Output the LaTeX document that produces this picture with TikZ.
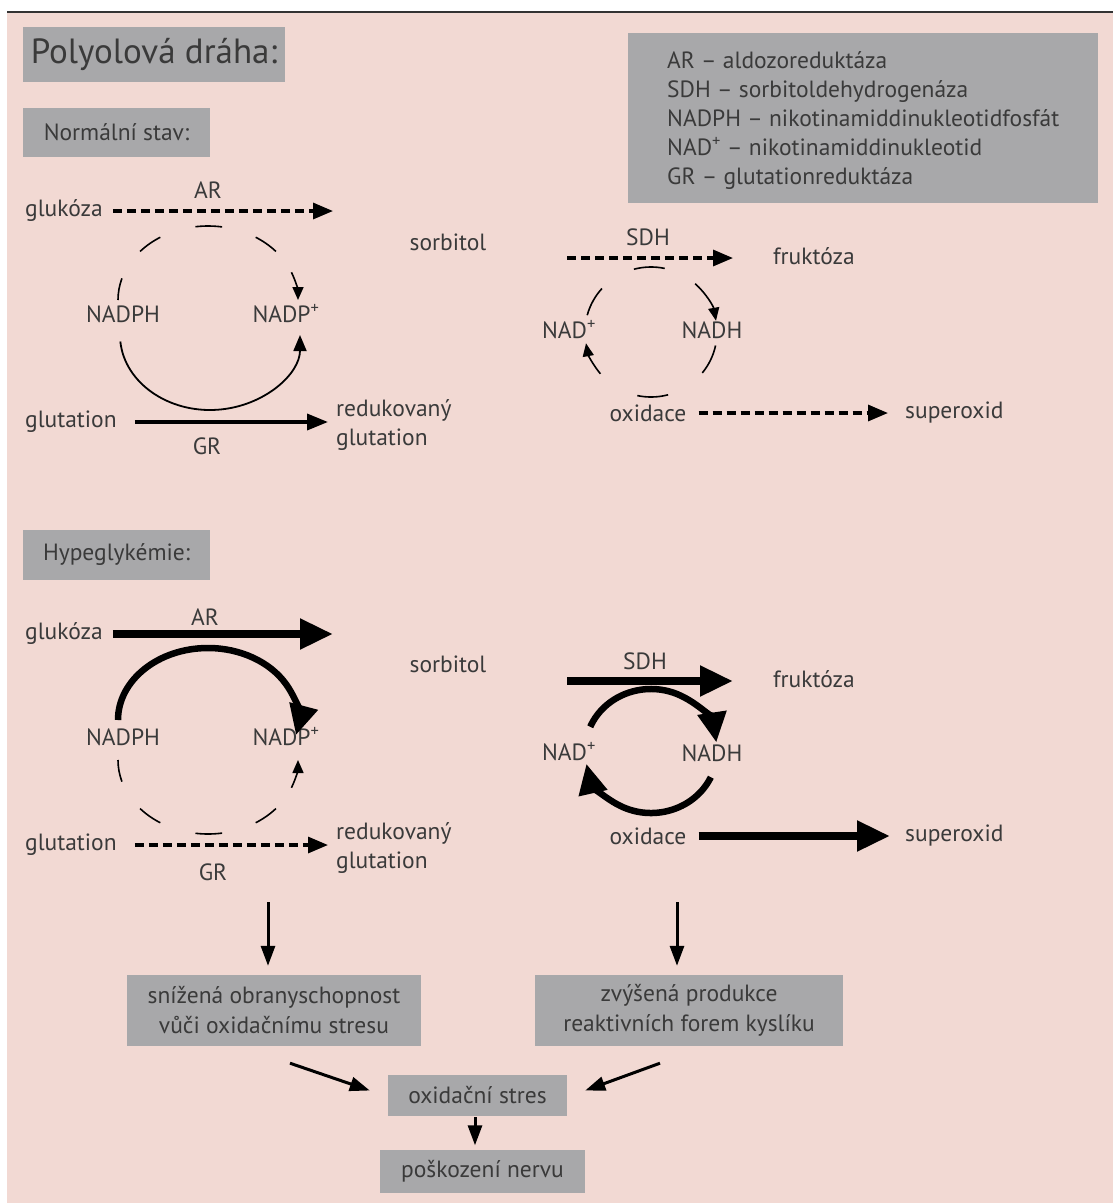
\documentclass[tikz,border=0pt]{standalone}
\usepackage{fontspec}
\setmainfont{PT Sans}
\usetikzlibrary{arrows.meta,calc}
\definecolor{bgpink}{HTML}{F2D9D3}
\definecolor{boxgray}{HTML}{A8A8AA}
\definecolor{txtgray}{HTML}{3A3A3A}
\definecolor{topline}{HTML}{333333}
\begin{document}
\begin{tikzpicture}[x=1pt,y=-1pt,
  lbl/.style={text=txtgray, font=\fontsize{23.5}{29}\selectfont, inner sep=0pt},
  graybox/.style={fill=boxgray, text=txtgray, inner sep=0pt, font=\fontsize{23.5}{30}\selectfont, align=center},
  dasharrow/.style={draw=black, line width=3.2pt, dash pattern=on 9pt off 5pt, -{Triangle[length=20pt,width=16pt]}},
  solidarrow/.style={draw=black, line width=3.6pt, -{Triangle[length=21pt,width=16pt]}},
  fatarrow/.style={draw=black, line width=8pt, -{Triangle[length=33pt,width=29pt]}},
  cyc/.style={draw=black, line width=1.6pt},
  cyctip/.style={draw=black, line width=1.6pt, -{Triangle[length=13pt,width=11pt]}},
  thinarc/.style={draw=black, line width=1.8pt, -{Triangle[length=16pt,width=13pt]}},
  fatcyc/.style={draw=black, line width=6.5pt, -{Triangle[length=30pt,width=28pt]}},
  botarrow/.style={draw=black, line width=3pt, -{Triangle[length=20pt,width=14pt]}},
]
\path[use as bounding box] (0,0) rectangle (1113,1203);
\fill[white] (0,0) rectangle (1113,1203);
\fill[bgpink] (7,12) rectangle (1113,1203);
\draw[topline, line width=2pt] (7,12) -- (1113,12);

% headers
\node[graybox, minimum width=262pt, minimum height=55pt, font=\fontsize{35}{40}\selectfont] (title) at (154,54.5) {Polyolová dráha:};
\node[graybox, minimum width=187pt, minimum height=49pt] (normal) at (116.5,132.5) {Normální stav:};
\node[graybox, minimum width=187pt, minimum height=50pt] (hyper) at (116.5,555) {Hypeglykémie:};

% legend
\node[fill=boxgray, minimum width=470pt, minimum height=170pt, inner sep=0pt] (legend) at (863,118) {};
\node[lbl, anchor=west, align=left] (legtext) at (667,121) {AR – aldozoreduktáza\\SDH – sorbitoldehydrogenáza\\NADPH – nikotinamiddinukleotidfosfát\\NAD\textsuperscript{+} – nikotinamiddinukleotid\\GR – glutationreduktáza};

% ================= normal state =================
\node[lbl] (ar1) at (208,190) {AR};
\node[lbl, anchor=west] (gluk1) at (25,211) {glukóza};
\coordinate (ar1e) at (333,211);
\draw[dasharrow, shorten <=10pt] (gluk1) -- (ar1e);
\node[lbl] (sorb1) at (448,242) {sorbitol};
\node[lbl] (nadph1) at (123,314) {NADPH};
\node[lbl] (nadp1) at (286,314) {NADP\textsuperscript{+}};
\node[lbl, anchor=west] (glut1) at (25,422) {glutation};
\coordinate (gr1e) at (328,422);
\draw[solidarrow, shorten <=18pt] (glut1) -- (gr1e);
\node[lbl] (gr1) at (207,446) {GR};
\node[lbl, anchor=west, align=left] (red1) at (336,425) {redukovaný\\glutation};

% AR cycle (dashed top, solid bottom)
\coordinate (c1) at (208,300);
\foreach \a in {180,221,262,302}
  \draw[cyc] (c1) ++(\a:90 and 74) arc[start angle=\a, delta angle=17, x radius=90, y radius=74];
\draw[cyctip] (c1) ++(338:90 and 74) arc[start angle=338, delta angle=22, x radius=90, y radius=74];
\coordinate (c2) at (210,335);
\draw[thinarc] (c2) ++(175:90 and 75) arc[start angle=175, delta angle=-175, x radius=90, y radius=75];

% SDH part
\node[lbl] (sdh1) at (648,237) {SDH};
\coordinate (sdh1s) at (567,258);
\coordinate (sdh1e) at (733,258);
\draw[dasharrow] (sdh1s) -- (sdh1e);
\node[lbl, anchor=west] (fruk1) at (773,256) {fruktóza};
\node[lbl] (nad1) at (569,330) {NAD\textsuperscript{+}};
\node[lbl] (nadh1) at (712,330) {NADH};
\node[lbl] (oxid1) at (648,413) {oxidace};
\coordinate (ox1e) at (888,413);
\draw[dasharrow, shorten <=12pt] (oxid1) -- (ox1e);
\node[lbl, anchor=west] (sup1) at (905,413) {superoxid};

\coordinate (c3) at (651,332);
\foreach \a in {195,255}
  \draw[cyc] (c3) ++(\a:66 and 65) arc[start angle=\a, delta angle=27, x radius=66, y radius=65];
\draw[cyctip] (c3) ++(312:66 and 65) arc[start angle=312, delta angle=38, x radius=66, y radius=65];
\foreach \a in {12,75}
  \draw[cyc] (c3) ++(\a:66 and 65) arc[start angle=\a, delta angle=27, x radius=66, y radius=65];
\draw[cyctip] (c3) ++(140:66 and 65) arc[start angle=140, delta angle=30, x radius=66, y radius=65];

% ================= hyperglycaemia =================
\node[lbl] (ar2) at (205,617) {AR};
\node[lbl, anchor=west] (gluk2) at (25,634) {glukóza};
\coordinate (ar2e) at (333,634);
\draw[fatarrow, shorten <=10pt] (gluk2) -- (ar2e);
\node[lbl] (sorb2) at (448,664) {sorbitol};
\node[lbl] (nadph2) at (123,737) {NADPH};
\node[lbl] (nadp2) at (286,737) {NADP\textsuperscript{+}};
\node[lbl, anchor=west] (glut2) at (25,845) {glutation};
\coordinate (gr2e) at (328,845);
\draw[dasharrow, shorten <=18pt] (glut2) -- (gr2e);
\node[lbl] (gr2) at (213,872) {GR};
\node[lbl, anchor=west, align=left] (red2) at (336,848) {redukovaný\\glutation};

% AR cycle (solid top, dashed bottom)
\coordinate (c4) at (208,720);
\draw[fatcyc] (c4) ++(180:90 and 72) arc[start angle=180, delta angle=192, x radius=90, y radius=72];
\coordinate (c5) at (208,760);
\foreach \a in {180,139,98,58}
  \draw[cyc] (c5) ++(\a:90 and 74) arc[start angle=\a, delta angle=-17, x radius=90, y radius=74];
\draw[cyctip] (c5) ++(22:90 and 74) arc[start angle=22, delta angle=-22, x radius=90, y radius=74];

% SDH part
\node[lbl] (sdh2) at (645,661) {SDH};
\coordinate (sdh2s) at (567,681);
\coordinate (sdh2e) at (733,681);
\draw[fatarrow] (sdh2s) -- (sdh2e);
\node[lbl, anchor=west] (fruk2) at (773,679) {fruktóza};
\node[lbl] (nad2) at (569,752) {NAD\textsuperscript{+}};
\node[lbl] (nadh2) at (712,753) {NADH};
\node[lbl] (oxid2) at (648,836) {oxidace};
\coordinate (ox2e) at (890,836);
\draw[fatarrow, shorten <=12pt] (oxid2) -- (ox2e);
\node[lbl, anchor=west] (sup2) at (905,836) {superoxid};

\coordinate (c6) at (651,751);
\draw[fatcyc] (c6) ++(203:66 and 62) arc[start angle=203, delta angle=149, x radius=66, y radius=62];
\draw[fatcyc] (c6) ++(25:66 and 62) arc[start angle=25, delta angle=143, x radius=66, y radius=62];

% ================= consequences =================
\node[graybox, minimum width=294pt, minimum height=71pt] (b1) at (274,1010.5) {snížená obranyschopnost\\vůči oxidačnímu stresu};
\node[graybox, minimum width=308pt, minimum height=71pt] (b2) at (689,1010.5) {zvýšená produkce\\reaktivních forem kyslíku};
\node[graybox, minimum width=179pt, minimum height=41pt] (b3) at (477.5,1095.5) {oxidační stres};
\node[graybox, minimum width=205pt, minimum height=43pt] (b4) at (482.5,1171) {poškození nervu};

\coordinate (d1) at (268,902);
\coordinate (d2) at (677,902);
\draw[botarrow, shorten >=9pt] (d1) -- (d1 |- b1.north);
\draw[botarrow, shorten >=9pt] (d2) -- (d2 |- b2.north);
\draw[botarrow] ($(b1.south)+(16,17)$) -- ($(b3.west)+(-18,-5)$);
\draw[botarrow] ($(b2.south)+(-29,17)$) -- ($(b3.east)+(18,-5)$);
\draw[botarrow, shorten <=1pt, shorten >=4pt] (b3.south -| 475,0) -- (b4.north -| 475,0);
\end{tikzpicture}
\end{document}
